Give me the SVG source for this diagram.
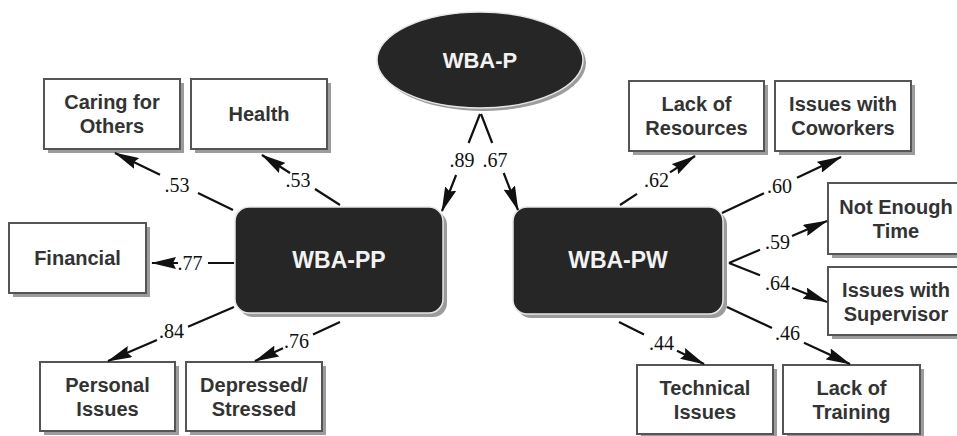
<svg xmlns="http://www.w3.org/2000/svg" width="957" height="436" viewBox="0 0 957 436">
<style>
.bg{fill:#fff}
.sh{fill:#9c9c9c}
.box{fill:#fff;stroke:#555;stroke-width:2}
.dark{fill:#262626;stroke:#e6e6e6;stroke-width:1.5}
.lbl{font-family:"Liberation Sans",Arial,sans-serif;font-weight:bold;font-size:20px;fill:#333;text-anchor:middle}
.big{font-family:"Liberation Sans",Arial,sans-serif;font-weight:bold;font-size:23px;fill:#f2f2f2;text-anchor:middle}
.coef{font-family:"Liberation Serif","Times New Roman",serif;font-size:20px;fill:#111;text-anchor:middle}
.conn path{stroke:#111;stroke-width:2.2;fill:none;marker-end:url(#arr)}
</style>
<defs>
<marker id="arr" markerUnits="userSpaceOnUse" viewBox="0 0 25 12" markerWidth="25" markerHeight="12" refX="24" refY="6" orient="auto">
<path d="M0,0 L25,6 L0,12 L3,6 z" fill="#111"/>
</marker>
</defs>
<rect class="bg" x="0" y="0" width="957" height="436"/>

<g id="wba-p">
<ellipse class="sh" cx="483" cy="63" rx="103" ry="48"/>
<ellipse class="dark" cx="480" cy="60" rx="103" ry="48"/>
<text class="big" x="480" y="68" style="font-size:22px">WBA-P</text>
</g>

<g id="wba-pp">
<rect class="sh" x="239" y="211" width="208" height="106" rx="14"/>
<rect class="dark" x="235" y="207" width="208" height="106" rx="14"/>
<text class="big" x="339" y="268">WBA-PP</text>
</g>

<g id="wba-pw">
<rect class="sh" x="517" y="211" width="210" height="107" rx="14"/>
<rect class="dark" x="513" y="207" width="210" height="107" rx="14"/>
<text class="big" x="618" y="268">WBA-PW</text>
</g>

<g id="caring">
<rect class="sh" x="48" y="83" width="136" height="70"/>
<rect class="box" x="44" y="79" width="136" height="70"/>
<text class="lbl" x="112" y="109">Caring for</text>
<text class="lbl" x="112" y="133">Others</text>
</g>

<g id="health">
<rect class="sh" x="195" y="83" width="136" height="70"/>
<rect class="box" x="191" y="79" width="136" height="70"/>
<text class="lbl" x="259" y="121">Health</text>
</g>

<g id="financial">
<rect class="sh" x="13" y="227" width="137" height="70"/>
<rect class="box" x="9" y="223" width="137" height="70"/>
<text class="lbl" x="77.5" y="265">Financial</text>
</g>

<g id="personal">
<rect class="sh" x="44" y="366" width="135" height="69"/>
<rect class="box" x="40" y="362" width="135" height="69"/>
<text class="lbl" x="107.5" y="391.5">Personal</text>
<text class="lbl" x="107.5" y="415.5">Issues</text>
</g>

<g id="depressed">
<rect class="sh" x="190" y="366" width="136" height="69"/>
<rect class="box" x="186" y="362" width="136" height="69"/>
<text class="lbl" x="254" y="391.5">Depressed/</text>
<text class="lbl" x="254" y="415.5">Stressed</text>
</g>

<g id="resources">
<rect class="sh" x="633" y="85" width="135" height="70"/>
<rect class="box" x="629" y="81" width="135" height="70"/>
<text class="lbl" x="696.5" y="111">Lack of</text>
<text class="lbl" x="696.5" y="135">Resources</text>
</g>

<g id="coworkers">
<rect class="sh" x="779" y="85" width="136" height="70"/>
<rect class="box" x="775" y="81" width="136" height="70"/>
<text class="lbl" x="843" y="111">Issues with</text>
<text class="lbl" x="843" y="135">Coworkers</text>
</g>

<g id="time">
<rect class="sh" x="832" y="187" width="136" height="71"/>
<rect class="box" x="828" y="183" width="136" height="71"/>
<text class="lbl" x="896" y="213.5">Not Enough</text>
<text class="lbl" x="896" y="238">Time</text>
</g>

<g id="supervisor">
<rect class="sh" x="832" y="271" width="136" height="68"/>
<rect class="box" x="828" y="267" width="136" height="68"/>
<text class="lbl" x="896" y="297">Issues with</text>
<text class="lbl" x="896" y="321">Supervisor</text>
</g>

<g id="technical">
<rect class="sh" x="641" y="369" width="136" height="69"/>
<rect class="box" x="637" y="365" width="136" height="69"/>
<text class="lbl" x="705" y="394.5">Technical</text>
<text class="lbl" x="705" y="418.5">Issues</text>
</g>

<g id="training">
<rect class="sh" x="787" y="369" width="137" height="69"/>
<rect class="box" x="783" y="365" width="137" height="69"/>
<text class="lbl" x="851.5" y="394.5">Lack of</text>
<text class="lbl" x="851.5" y="418.5">Training</text>
</g>

<g id="connectors" class="conn">
<path d="M233,210 L198,193.1 M160,174.7 L115,153"/>
<path d="M340,205 L315,189 M290,173 L262,155"/>
<path d="M480,114 L468.6,143 M456.1,175 L442,211"/>
<path d="M481,114 L492.2,143 M503.7,173 L518,210"/>
<path d="M234,263 L208,263 M178,263 L152,263"/>
<path d="M234,307 L188,326.7 M157,340 L108,361"/>
<path d="M340,322 L313,334.4 M283,348.2 L255,361"/>
<path d="M620,205 L637,193.9 M670,172.3 L695,156"/>
<path d="M722,213 L764,193.2 M797,177.7 L841,157"/>
<path d="M729,263 L760,249.7 M792,236 L827,221"/>
<path d="M729,263 L760,275.3 M792,288.1 L827,302"/>
<path d="M727,307 L772,327.9 M804,342.7 L850,364"/>
<path d="M619,322 L644,334.4 M677,350.7 L704,364"/>
</g>

<g id="coefficients">
<text class="coef" x="177" y="192">.53</text>
<text class="coef" x="298" y="187">.53</text>
<text class="coef" x="462" y="167">.89</text>
<text class="coef" x="495" y="167">.67</text>
<text class="coef" x="190" y="270">.77</text>
<text class="coef" x="171.5" y="338">.84</text>
<text class="coef" x="296.5" y="348">.76</text>
<text class="coef" x="656.5" y="187">.62</text>
<text class="coef" x="779.5" y="193">.60</text>
<text class="coef" x="777.5" y="249">.59</text>
<text class="coef" x="777.5" y="290">.64</text>
<text class="coef" x="787.5" y="340">.46</text>
<text class="coef" x="661.5" y="350">.44</text>
</g>
</svg>
